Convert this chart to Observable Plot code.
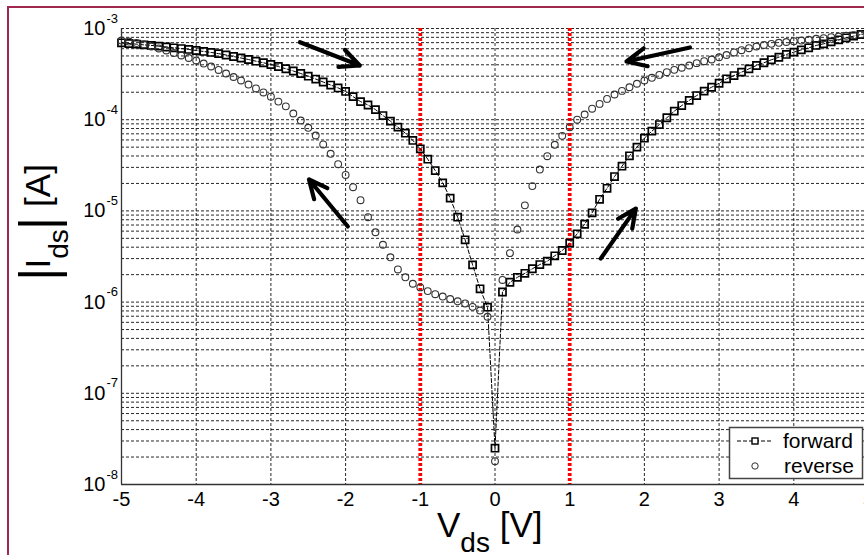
<!DOCTYPE html>
<html><head><meta charset="utf-8">
<script src="https://cdn.jsdelivr.net/npm/d3@7"></script>
<script src="https://cdn.jsdelivr.net/npm/@observablehq/plot@0.6"></script>
<style>
html,body{margin:0;padding:0;overflow:hidden;background:#fff;width:864px;height:555px;}
#frame{position:absolute;left:7px;top:6px;width:2000px;height:2000px;border:2px solid #a0284c;}
#chart{position:absolute;left:0;top:0;}
#overlay{position:absolute;left:0;top:0;}
</style></head><body>
<div id="frame"></div>
<div id="chart"></div>
<svg id="overlay" width="864" height="555"></svg>
<script>
const vds = [-5.0,-4.9,-4.8,-4.7,-4.6,-4.5,-4.4,-4.3,-4.2,-4.1,-4.0,-3.9,-3.8,-3.7,-3.6,-3.5,-3.4,-3.3,-3.2,-3.1,
-3.0,-2.9,-2.8,-2.7,-2.6,-2.5,-2.4,-2.3,-2.2,-2.1,-2.0,-1.9,-1.8,-1.7,-1.6,-1.5,-1.4,-1.3,-1.2,-1.1,
-1.0,-0.9,-0.8,-0.7,-0.6,-0.5,-0.4,-0.3,-0.2,-0.1,0.0,0.1,0.2,0.3,0.4,0.5,0.6,0.7,0.8,0.9,
1.0,1.1,1.2,1.3,1.4,1.5,1.6,1.7,1.8,1.9,2.0,2.1,2.2,2.3,2.4,2.5,2.6,2.7,2.8,2.9,
3.0,3.1,3.2,3.3,3.4,3.5,3.6,3.7,3.8,3.9,4.0,4.1,4.2,4.3,4.4,4.5,4.6,4.7,4.8,4.9,5.0];

const forwardIds = [6.97e-4,6.85e-4,6.73e-4,6.62e-4,6.52e-4,6.40e-4,6.27e-4,6.14e-4,6.03e-4,5.89e-4,
5.74e-4,5.60e-4,5.46e-4,5.30e-4,5.12e-4,4.93e-4,4.75e-4,4.57e-4,4.38e-4,4.21e-4,
4.03e-4,3.83e-4,3.62e-4,3.42e-4,3.21e-4,3.00e-4,2.79e-4,2.59e-4,2.40e-4,2.23e-4,
2.04e-4,1.79e-4,1.58e-4,1.45e-4,1.29e-4,1.11e-4,9.64e-5,8.28e-5,7.11e-5,5.92e-5,
4.80e-5,3.69e-5,2.77e-5,2.03e-5,1.38e-5,8.53e-6,4.82e-6,2.56e-6,1.40e-6,8.79e-7,
2.50e-8,1.29e-6,1.65e-6,1.87e-6,2.07e-6,2.32e-6,2.58e-6,2.81e-6,3.22e-6,3.68e-6,
4.43e-6,5.61e-6,7.14e-6,9.53e-6,1.34e-5,1.77e-5,2.38e-5,3.09e-5,4.02e-5,5.00e-5,
6.27e-5,7.48e-5,8.85e-5,1.05e-4,1.24e-4,1.43e-4,1.63e-4,1.84e-4,2.06e-4,2.27e-4,
2.51e-4,2.81e-4,3.05e-4,3.32e-4,3.61e-4,3.93e-4,4.21e-4,4.54e-4,4.84e-4,5.19e-4,
5.50e-4,5.83e-4,6.14e-4,6.52e-4,6.79e-4,7.14e-4,7.52e-4,7.91e-4,8.24e-4,8.59e-4,8.93e-4];

const reverseIds = [7.38e-4,7.19e-4,6.93e-4,6.68e-4,6.35e-4,6.04e-4,5.74e-4,5.38e-4,5.06e-4,4.75e-4,
4.46e-4,4.13e-4,3.83e-4,3.51e-4,3.21e-4,2.94e-4,2.69e-4,2.43e-4,2.20e-4,1.99e-4,
1.79e-4,1.58e-4,1.40e-4,1.17e-4,9.80e-5,8.15e-5,6.71e-5,5.35e-5,4.23e-5,3.25e-5,
2.48e-5,1.82e-5,1.31e-5,8.53e-6,5.83e-6,4.25e-6,3.10e-6,2.28e-6,1.87e-6,1.59e-6,
1.45e-6,1.32e-6,1.22e-6,1.15e-6,1.08e-6,1.02e-6,9.66e-7,8.87e-7,8.09e-7,6.90e-7,
1.80e-8,1.75e-6,3.44e-6,6.25e-6,1.15e-5,1.87e-5,2.84e-5,3.98e-5,5.31e-5,6.65e-5,
8.28e-5,1.00e-4,1.14e-4,1.32e-4,1.49e-4,1.69e-4,1.89e-4,2.07e-4,2.27e-4,2.48e-4,
2.69e-4,2.88e-4,3.10e-4,3.32e-4,3.52e-4,3.71e-4,3.93e-4,4.17e-4,4.38e-4,4.57e-4,
4.84e-4,5.12e-4,5.46e-4,5.78e-4,6.08e-4,6.35e-4,6.59e-4,6.79e-4,6.97e-4,7.11e-4,
7.26e-4,7.38e-4,7.52e-4,7.71e-4,7.83e-4,8.04e-4,8.17e-4,8.32e-4,8.45e-4,8.59e-4,8.81e-4];

const xTicks = [-5,-4,-3,-2,-1,0,1,2,3,4,5];
const xGrid = [-4,-3,-2,-1,0,1,2,3,4];
const yTickExps = [-8,-7,-6,-5,-4,-3];
const markerV = [-1, 1];
const arrowsData = [
  {x1:-2.61, y1:7.08e-4, x2:-1.81, y2:3.93e-4},
  {x1:-1.97, y1:6.75e-6, x2:-2.49, y2:2.21e-5},
  {x1:2.61, y1:6.19e-4, x2:1.76, y2:4.35e-4},
  {x1:1.415, y1:3.0e-6, x2:1.885, y2:1.06e-5}
];

const fwd = vds.map((v,k)=>({v, i: forwardIds[k]}));
const rev = vds.map((v,k)=>({v, i: reverseIds[k]}));
const font = "'Liberation Sans', Arial, Helvetica, sans-serif";
const gridTicks = d3.scaleLog().domain([1e-8,1e-3]).ticks();

const chart = Plot.plot({
  width: 900, height: 555,
  marginLeft: 121, marginRight: 32, marginTop: 28, marginBottom: 71,
  style: {fontFamily: font, background: "transparent", overflow: "visible", maxWidth: "none", color: "#000"},
  x: {domain: [-5, 5], axis: null},
  y: {type: "log", domain: [1e-8, 1e-3], axis: null},
  marks: [
    Plot.ruleY(gridTicks, {stroke: "#111", strokeWidth: 0.9, strokeDasharray: "3,2"}),
    Plot.ruleX(xGrid, {stroke: "#111", strokeWidth: 0.9, strokeDasharray: "3,2"}),
    Plot.ruleX(markerV, {stroke: "#ff0000", strokeWidth: 3.8, strokeDasharray: "3,2"}),
    Plot.ruleX([-5], {stroke: "#333", strokeWidth: 1.3}),
    Plot.ruleY([1e-8], {stroke: "#333", strokeWidth: 1.3}),
    Plot.line(fwd, {x: "v", y: "i", stroke: "#000", strokeWidth: 1, strokeDasharray: "4,2"}),
    Plot.dot(fwd, {x: "v", y: "i", symbol: "square", r: 4, stroke: "#000", strokeWidth: 1.7, fill: "none"}),
    Plot.dot(rev, {x: "v", y: "i", r: 3.4, stroke: "#333", strokeWidth: 1.1, fill: "none"}),
    Plot.arrow(arrowsData, {x1: "x1", y1: "y1", x2: "x2", y2: "y2", stroke: "#000", strokeWidth: 4.2, headLength: 13, headAngle: 50}),
    Plot.text(yTickExps, {x: () => -5, y: e => Math.pow(10, e), text: () => "10", dx: -16, textAnchor: "end", fontSize: 20, fill: "#000"}),
    Plot.text(yTickExps, {x: () => -5, y: e => Math.pow(10, e), text: e => String(e), dx: -15, dy: -10, textAnchor: "start", fontSize: 13, fill: "#000"}),
    Plot.text(xTicks, {x: d => d, y: () => 1e-8, text: d => String(d), dy: 15, fontSize: 20, fill: "#000"})
  ]
});
document.getElementById("chart").appendChild(chart);

const ov = d3.select("#overlay");
// y title (rotated)
const yt = ov.append("text").attr("transform", "translate(49.5,281) rotate(-90)")
  .attr("font-family", font).attr("font-size", 35).attr("fill", "#000");
yt.append("tspan").attr("font-size", 52).attr("dy", 6).text("|");
yt.append("tspan").attr("dy", -6).attr("dx", -1).text("I");
yt.append("tspan").attr("font-size", 28).attr("dy", 18).text("ds");
yt.append("tspan").attr("font-size", 52).attr("dy", -12).attr("dx", -1).text("|");
yt.append("tspan").attr("dy", -6).text("\u00a0[A]");
// x title
const xt = ov.append("text").attr("x", 437).attr("y", 537)
  .attr("font-family", font).attr("font-size", 35).attr("fill", "#000");
xt.append("tspan").text("V");
xt.append("tspan").attr("font-size", 28).attr("dy", 15).text("ds");
xt.append("tspan").attr("dy", -15).text("\u00a0[V]");
// legend
const lg = ov.append("g").attr("font-family", font);
lg.append("rect").attr("x", 729.5).attr("y", 427.5).attr("width", 133).attr("height", 51)
  .attr("fill", "#fff").attr("stroke", "#444").attr("stroke-width", 1.5);
lg.append("line").attr("x1", 737).attr("x2", 771).attr("y1", 441).attr("y2", 441)
  .attr("stroke", "#000").attr("stroke-dasharray", "4,2");
lg.append("rect").attr("x", 752).attr("y", 438).attr("width", 6).attr("height", 6)
  .attr("fill", "#fff").attr("stroke", "#000").attr("stroke-width", 1.4);
lg.append("circle").attr("cx", 755).attr("cy", 466).attr("r", 3.2)
  .attr("fill", "none").attr("stroke", "#333");
lg.append("text").attr("x", 783).attr("y", 441).attr("dy", "0.35em").attr("font-size", 21).text("forward");
lg.append("text").attr("x", 784).attr("y", 466).attr("dy", "0.35em").attr("font-size", 21).text("reverse");
</script></body></html>
